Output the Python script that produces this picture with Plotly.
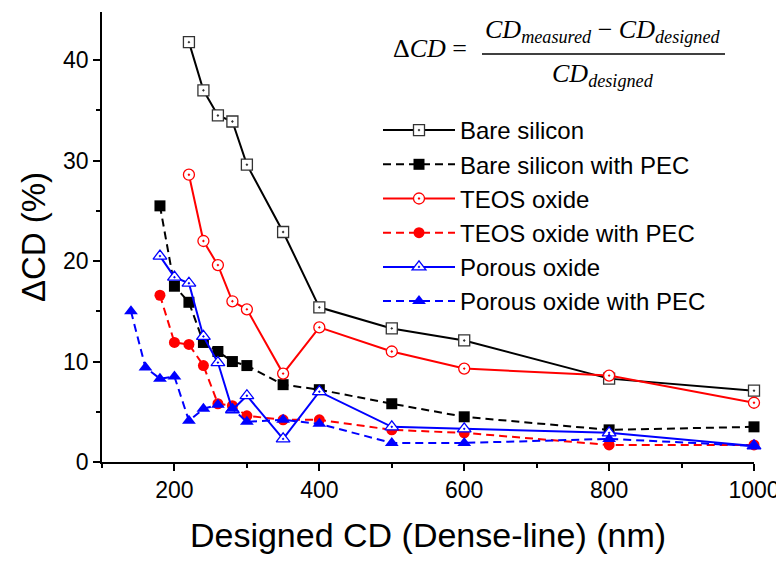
import plotly.graph_objects as go

# ---- data ----
x_bare = [220, 240, 260, 280, 300, 350, 400, 500, 600, 800, 1000]
y_bare = [41.8, 37.0, 34.5, 33.9, 29.6, 22.9, 15.4, 13.3, 12.1, 8.3, 7.1]

x_bare_pec = [180, 200, 220, 240, 260, 280, 300, 350, 400, 500, 600, 800, 1000]
y_bare_pec = [25.5, 17.5, 15.9, 11.9, 11.0, 10.0, 9.6, 7.7, 7.2, 5.8, 4.5, 3.2, 3.5]

x_teos = [220, 240, 260, 280, 300, 350, 400, 500, 600, 800, 1000]
y_teos = [28.6, 22.0, 19.6, 16.0, 15.2, 8.8, 13.4, 11.0, 9.3, 8.6, 5.9]

x_teos_pec = [180, 200, 220, 240, 260, 280, 300, 350, 400, 500, 600, 800, 1000]
y_teos_pec = [16.6, 11.9, 11.7, 9.6, 5.8, 5.6, 4.6, 4.2, 4.2, 3.2, 2.9, 1.7, 1.7]

x_por = [180, 200, 220, 240, 260, 280, 300, 350, 400, 500, 600, 800, 1000]
y_por = [20.5, 18.4, 17.8, 12.5, 9.9, 5.2, 6.6, 2.3, 7.0, 3.5, 3.3, 2.9, 1.6]

x_por_pec = [140, 160, 180, 200, 220, 240, 260, 280, 300, 350, 400, 500, 600, 800, 1000]
y_por_pec = [15.0, 9.4, 8.3, 8.5, 4.1, 5.3, 5.7, 5.3, 4.0, 4.2, 3.8, 1.9, 1.9, 2.3, 1.6]

series = [
    ("Bare silicon", x_bare, y_bare, "black", "solid", "square-dot", "#333333", True),
    ("Bare silicon with PEC", x_bare_pec, y_bare_pec, "black", "8px,5px", "square", "black", False),
    ("TEOS oxide", x_teos, y_teos, "red", "solid", "circle-dot", "red", True),
    ("TEOS oxide with PEC", x_teos_pec, y_teos_pec, "red", "8px,5px", "circle", "red", False),
    ("Porous oxide", x_por, y_por, "blue", "solid", "triangle-up-dot", "blue", True),
    ("Porous oxide with PEC", x_por_pec, y_por_pec, "blue", "8px,5px", "triangle-up", "blue", False),
]

# page body has an 8px margin, so the figure is shifted by 8px; compensate
W, H = 776, 553
L, T, R, B = 94, 4, 30, 99
PX0, PY0 = 102, 12          # plot area origin in screen px
PW, PH = 652, 450           # plot area size

def px(x):
    return (x - PX0) / PW

def py(y):
    return (PY0 + PH - y) / PH

fig = go.Figure()
for name, xs, ys, col, dash, sym, mcol, hollow in series:
    fig.add_trace(go.Scatter(
        x=xs, y=ys, name=name, mode="lines+markers",
        line=dict(color=col, width=2, dash=dash),
        marker=dict(symbol=sym, size=11 if "triangle" not in sym else 12,
                    color="white" if hollow else mcol,
                    line=dict(color=mcol, width=1.3 if hollow else 0)),
        cliponaxis=False,
    ))

fig.update_layout(
    width=W, height=H,
    paper_bgcolor="white", plot_bgcolor="white",
    margin=dict(l=L, r=R, t=T, b=B),
    font=dict(family="Liberation Sans, Arial", color="black", size=23),
    showlegend=True,
    legend=dict(x=px(378), y=py(108), xanchor="left", yanchor="top",
                font=dict(size=24), bgcolor="rgba(0,0,0,0)",
                tracegroupgap=0, itemwidth=72),
)
fig.update_xaxes(
    range=[100, 1000], tick0=200, dtick=200,
    showline=True, linecolor="black", linewidth=1.5,
    ticks="outside", ticklen=7, tickwidth=1.5, tickcolor="black",
    minor=dict(dtick=100, ticks="outside", ticklen=4, tickwidth=1.5, tickcolor="black"),
    showgrid=False, zeroline=False,
    tickfont=dict(size=23),
    title=dict(text="Designed CD (Dense-line) (nm)", font=dict(size=34), standoff=21),
)
fig.update_yaxes(
    range=[0, 44.8], tick0=0, dtick=10,
    showline=True, linecolor="black", linewidth=1.5,
    ticks="outside", ticklen=7, tickwidth=1.5, tickcolor="black",
    minor=dict(dtick=5, ticks="outside", ticklen=4, tickwidth=1.5, tickcolor="black"),
    showgrid=False, zeroline=False,
    tickfont=dict(size=23),
    title=dict(text="ΔCD (%)", font=dict(size=33), standoff=8),
)

# equation
ser = "Liberation Serif, Times New Roman"
fig.add_annotation(xref="paper", yref="paper", x=px(430), y=py(49),
                   text="Δ<i>CD</i> =", showarrow=False, font=dict(family=ser, size=26),
                   xanchor="center", yanchor="middle")
fig.add_annotation(xref="paper", yref="paper", x=px(603), y=py(31),
                   text="<i>CD<sub>measured</sub></i> − <i>CD<sub>designed</sub></i>",
                   showarrow=False, font=dict(family=ser, size=26),
                   xanchor="center", yanchor="middle")
fig.add_annotation(xref="paper", yref="paper", x=px(603), y=py(75),
                   text="<i>CD<sub>designed</sub></i>",
                   showarrow=False, font=dict(family=ser, size=26),
                   xanchor="center", yanchor="middle")
fig.add_shape(type="line", xref="paper", yref="paper",
              x0=px(482), x1=px(725), y0=py(54), y1=py(54),
              line=dict(color="black", width=1.3))

fig.write_html("out.html")
